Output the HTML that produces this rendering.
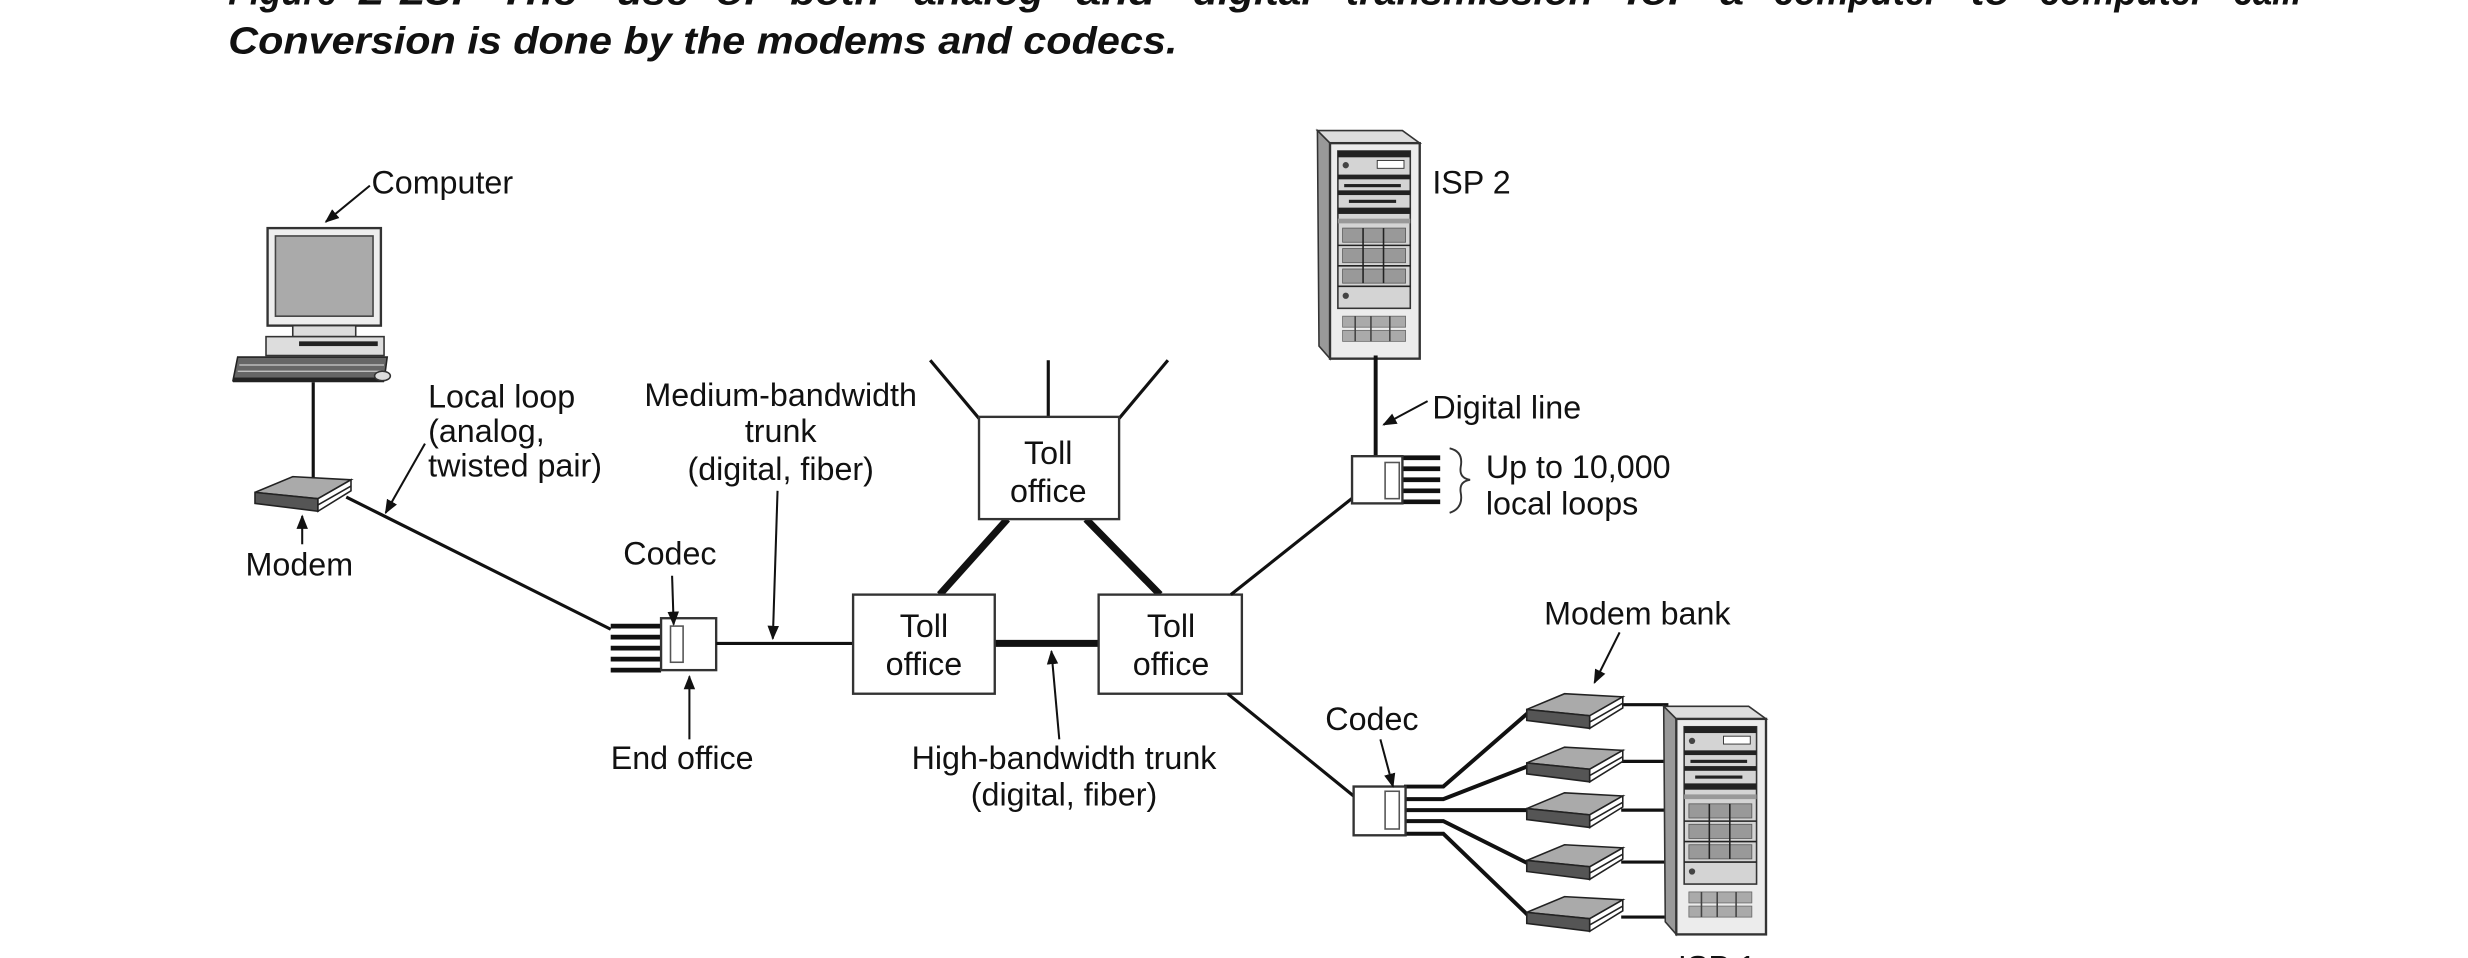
<!DOCTYPE html>
<html><head><meta charset="utf-8"><style>
html,body{margin:0;padding:0;background:#fff;}
svg{display:block;}
text{font-family:"Liberation Sans",Arial,sans-serif;fill:#111;}
.l{font-size:20.5px;}
.t{font-size:24px;font-weight:bold;font-style:italic;}
</style></head><body>
<svg width="2468" height="958" viewBox="0 0 1568 609" preserveAspectRatio="none" xmlns="http://www.w3.org/2000/svg">
<defs>
<marker id="ah" viewBox="0 0 10 10" refX="9" refY="5" markerWidth="7" markerHeight="7" orient="auto-start-reverse"><path d="M0,1 L10,5 L0,9 z" fill="#111"/></marker>
<symbol id="srv" viewBox="0 0 66 146" overflow="visible">
<polygon points="0,0 54,0 65,8 8,8" fill="#ddd" stroke="#333"/>
<polygon points="0,0 8,8 8,145 1,137" fill="#999" stroke="#333"/>
<rect x="8" y="8" width="57" height="137" fill="#ececec" stroke="#333" stroke-width="1.5"/>
<rect x="13" y="13" width="46" height="100" fill="#d4d4d4" stroke="#333"/>
<rect x="13" y="13" width="46" height="4" fill="#222"/>
<rect x="38" y="19" width="17" height="5" fill="#fff" stroke="#333" stroke-width=".6"/>
<circle cx="18" cy="22" r="2" fill="#444"/>
<rect x="13" y="28" width="46" height="3" fill="#222"/>
<rect x="17" y="34" width="36" height="2" fill="#222"/>
<rect x="13" y="38" width="46" height="3" fill="#222"/>
<rect x="20" y="44" width="30" height="2" fill="#222"/>
<rect x="13" y="49" width="46" height="4" fill="#222"/>
<rect x="13" y="56" width="46" height="3" fill="#999"/>
<g fill="#999" stroke="#555" stroke-width=".5">
<rect x="16" y="62" width="40" height="9"/><rect x="16" y="75" width="40" height="9"/><rect x="16" y="88" width="40" height="9"/>
</g>
<g stroke="#222" stroke-width="1"><line x1="13" y1="73" x2="59" y2="73"/><line x1="13" y1="86" x2="59" y2="86"/><line x1="13" y1="99" x2="59" y2="99"/>
<line x1="29" y1="62" x2="29" y2="97"/><line x1="42" y1="62" x2="42" y2="97"/></g>
<circle cx="18" cy="105" r="2" fill="#444"/>
<g fill="#aaa" stroke="#666" stroke-width=".5"><rect x="16" y="118" width="40" height="7"/><rect x="16" y="127" width="40" height="7"/></g>
<g stroke="#444" stroke-width="1"><line x1="24" y1="118" x2="24" y2="134"/><line x1="34" y1="118" x2="34" y2="134"/><line x1="46" y1="118" x2="46" y2="134"/></g>
</symbol>
<symbol id="mdm" viewBox="0 0 62 26" overflow="visible">
<polygon points="0,11 24,1 61,3 40,15" fill="#aaa" stroke="#222"/>
<polygon points="0,11 40,15 40,23 0,18" fill="#555" stroke="#222"/>
<polygon points="40,15 61,3 61,10 40,23" fill="#fff" stroke="#222"/>
<line x1="40" y1="19" x2="61" y2="7" stroke="#222"/>
</symbol>
</defs>

<!-- title -->
<g class="t">
<text x="145" y="3" class="t" textLength="69" lengthAdjust="spacingAndGlyphs">Figure</text>
<text x="228" y="3" class="t" textLength="67" lengthAdjust="spacingAndGlyphs">2-23.</text>
<text x="317" y="3" class="t" textLength="50" lengthAdjust="spacingAndGlyphs">The</text>
<text x="392" y="3" class="t" textLength="46" lengthAdjust="spacingAndGlyphs">use</text>
<text x="455" y="3" class="t" textLength="27" lengthAdjust="spacingAndGlyphs">of</text>
<text x="502" y="3" class="t" textLength="57" lengthAdjust="spacingAndGlyphs">both</text>
<text x="581" y="3" class="t" textLength="82" lengthAdjust="spacingAndGlyphs">analog</text>
<text x="684" y="3" class="t" textLength="50" lengthAdjust="spacingAndGlyphs">and</text>
<text x="758" y="3" class="t" textLength="76" lengthAdjust="spacingAndGlyphs">digital</text>
<text x="855" y="3" class="t" textLength="157" lengthAdjust="spacingAndGlyphs">transmission</text>
<text x="1033" y="3" class="t" textLength="38" lengthAdjust="spacingAndGlyphs">for</text>
<text x="1093" y="3" class="t" textLength="15" lengthAdjust="spacingAndGlyphs">a</text>
<text x="1127" y="3" class="t" textLength="105" lengthAdjust="spacingAndGlyphs">computer</text>
<text x="1252" y="3" class="t" textLength="25" lengthAdjust="spacingAndGlyphs">to</text>
<text x="1296" y="3" class="t" textLength="105" lengthAdjust="spacingAndGlyphs">computer</text>
<text x="1419" y="3" class="t" textLength="43" lengthAdjust="spacingAndGlyphs">call.</text>
</g>
<text x="145" y="34" class="t" textLength="603" lengthAdjust="spacingAndGlyphs">Conversion is done by the modems and codecs.</text>

<!-- computer -->
<rect x="170" y="145" width="72" height="62" fill="#eee" stroke="#333" stroke-width="1.5"/>
<rect x="175" y="150" width="62" height="51" fill="#aaa" stroke="#444"/>
<rect x="186" y="207" width="40" height="7" fill="#ddd" stroke="#333"/>
<rect x="169" y="214" width="75" height="12" fill="#ddd" stroke="#333"/>
<rect x="190" y="217" width="50" height="3" fill="#222"/>
<polygon points="151,227 246,227 244,242 148,242" fill="#666" stroke="#222"/>
<g stroke="#ccc" stroke-width=".8"><line x1="152" y1="232" x2="244" y2="232"/><line x1="151" y1="236" x2="244" y2="236"/></g>
<rect x="148" y="240" width="96" height="3" fill="#222"/>
<ellipse cx="243" cy="239" rx="5" ry="3" fill="#ddd" stroke="#333"/>
<line x1="199" y1="243" x2="199" y2="305" stroke="#111" stroke-width="2"/>
<use href="#mdm" x="162" y="302" width="62" height="26"/>
<text x="236" y="123" class="l">Computer</text>
<line x1="235" y1="118" x2="207" y2="141" stroke="#111" stroke-width="1.3" marker-end="url(#ah)"/>
<text x="156" y="366" class="l">Modem</text>
<line x1="192" y1="346" x2="192" y2="328" stroke="#111" stroke-width="1.3" marker-end="url(#ah)"/>
<text x="272" y="259" class="l">Local loop</text>
<text x="272" y="281" class="l">(analog,</text>
<text x="272" y="303" class="l">twisted pair)</text>
<line x1="270" y1="282" x2="245" y2="326" stroke="#111" stroke-width="1.3" marker-end="url(#ah)"/>
<line x1="220" y1="316" x2="388" y2="400" stroke="#111" stroke-width="2"/>

<!-- end office -->
<g stroke="#111" stroke-width="3"><line x1="388" y1="398" x2="420" y2="398"/><line x1="388" y1="405" x2="420" y2="405"/><line x1="388" y1="412" x2="420" y2="412"/><line x1="388" y1="419" x2="420" y2="419"/><line x1="388" y1="426" x2="420" y2="426"/></g>
<rect x="420" y="393" width="35" height="33" fill="#fff" stroke="#333" stroke-width="1.5"/>
<rect x="426" y="398" width="8" height="23" fill="#fff" stroke="#555"/>
<text x="396" y="359" class="l">Codec</text>
<line x1="427" y1="366" x2="428" y2="397" stroke="#111" stroke-width="1.3" marker-end="url(#ah)"/>
<text x="388" y="489" class="l">End office</text>
<line x1="438" y1="470" x2="438" y2="430" stroke="#111" stroke-width="1.3" marker-end="url(#ah)"/>
<line x1="455" y1="409" x2="542" y2="409" stroke="#111" stroke-width="2"/>
<text x="496" y="258" class="l" text-anchor="middle">Medium-bandwidth</text>
<text x="496" y="281" class="l" text-anchor="middle">trunk</text>
<text x="496" y="305" class="l" text-anchor="middle">(digital, fiber)</text>
<line x1="494" y1="312" x2="491" y2="406" stroke="#111" stroke-width="1.3" marker-end="url(#ah)"/>

<!-- toll offices -->
<g stroke="#111" stroke-width="2"><line x1="622" y1="266" x2="591" y2="229"/><line x1="666" y1="266" x2="666" y2="229"/><line x1="711" y1="266" x2="742" y2="229"/></g>
<g stroke="#111" stroke-width="4.5"><line x1="640" y1="330" x2="597" y2="378"/><line x1="690" y1="330" x2="737" y2="378"/><line x1="632" y1="409" x2="698" y2="409"/></g>
<rect x="622" y="265" width="89" height="65" fill="#fff" stroke="#333" stroke-width="1.5"/>
<rect x="542" y="378" width="90" height="63" fill="#fff" stroke="#333" stroke-width="1.5"/>
<rect x="698" y="378" width="91" height="63" fill="#fff" stroke="#333" stroke-width="1.5"/>
<text x="666" y="295" class="l" text-anchor="middle">Toll</text><text x="666" y="319" class="l" text-anchor="middle">office</text>
<text x="587" y="405" class="l" text-anchor="middle">Toll</text><text x="587" y="429" class="l" text-anchor="middle">office</text>
<text x="744" y="405" class="l" text-anchor="middle">Toll</text><text x="744" y="429" class="l" text-anchor="middle">office</text>
<text x="676" y="489" class="l" text-anchor="middle">High-bandwidth trunk</text>
<text x="676" y="512" class="l" text-anchor="middle">(digital, fiber)</text>
<line x1="673" y1="470" x2="668" y2="414" stroke="#111" stroke-width="1.3" marker-end="url(#ah)"/>

<!-- ISP 2 -->
<line x1="782" y1="378" x2="860" y2="316" stroke="#111" stroke-width="2"/>
<use href="#srv" x="837" y="83" width="66" height="146"/>
<text x="910" y="123" class="l">ISP 2</text>
<line x1="874" y1="226" x2="874" y2="291" stroke="#111" stroke-width="2.5"/>
<text x="910" y="266" class="l">Digital line</text>
<line x1="907" y1="255" x2="879" y2="270" stroke="#111" stroke-width="1.3" marker-end="url(#ah)"/>
<g stroke="#111" stroke-width="3"><line x1="890" y1="291" x2="915" y2="291"/><line x1="890" y1="298" x2="915" y2="298"/><line x1="890" y1="305" x2="915" y2="305"/><line x1="890" y1="312" x2="915" y2="312"/><line x1="890" y1="319" x2="915" y2="319"/></g>
<rect x="859" y="290" width="32" height="30" fill="#fff" stroke="#333" stroke-width="1.5"/>
<rect x="880" y="294" width="9" height="23" fill="#fff" stroke="#555"/>
<path d="M921,285 Q930,287 928,297 Q927,304 934,305 Q927,306 928,313 Q930,323 921,326" fill="none" stroke="#333" stroke-width="1.2"/>
<text x="944" y="304" class="l">Up to 10,000</text>
<text x="944" y="327" class="l">local loops</text>

<!-- ISP 1 -->
<line x1="780" y1="441" x2="860" y2="506" stroke="#111" stroke-width="2"/>
<g stroke="#111" stroke-width="2.5" fill="none">
<polyline points="892,500 917,500 971,453"/>
<polyline points="892,508 917,508 971,487"/>
<polyline points="892,515 971,515"/>
<polyline points="892,522 917,522 971,549"/>
<polyline points="892,530 917,530 971,582"/>
</g>
<rect x="860" y="500" width="33" height="31" fill="#fff" stroke="#333" stroke-width="1.5"/>
<rect x="880" y="503" width="9" height="24" fill="#fff" stroke="#555"/>
<text x="842" y="464" class="l">Codec</text>
<line x1="877" y1="470" x2="885" y2="500" stroke="#111" stroke-width="1.3" marker-end="url(#ah)"/>
<g stroke="#111" stroke-width="2"><line x1="1030" y1="448" x2="1060" y2="448"/><line x1="1030" y1="484" x2="1060" y2="484"/><line x1="1030" y1="515" x2="1060" y2="515"/><line x1="1030" y1="548" x2="1060" y2="548"/><line x1="1030" y1="583" x2="1060" y2="583"/></g>
<use href="#mdm" x="970" y="440" width="62" height="26"/>
<use href="#mdm" x="970" y="474" width="62" height="26"/>
<use href="#mdm" x="970" y="503" width="62" height="26"/>
<use href="#mdm" x="970" y="536" width="62" height="26"/>
<use href="#mdm" x="970" y="569" width="62" height="26"/>
<use href="#srv" x="1057" y="447" width="66" height="150"/>
<text x="981" y="397" class="l">Modem bank</text>
<line x1="1029" y1="402" x2="1013" y2="434" stroke="#111" stroke-width="1.3" marker-end="url(#ah)"/>
<text x="1066" y="622" class="l">ISP 1</text>
</svg>
</body></html>
